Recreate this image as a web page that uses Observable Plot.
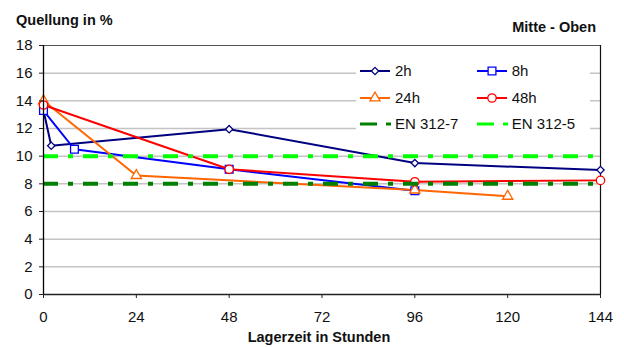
<!DOCTYPE html>
<html>
<head>
<meta charset="utf-8">
<script src="https://cdn.jsdelivr.net/npm/d3@7"></script>
<script src="https://cdn.jsdelivr.net/npm/@observablehq/plot@0.6"></script>
<style>
  html, body { margin: 0; padding: 0; background: #fff; }
  #wrap { position: relative; width: 624px; height: 347px; font-family: "Liberation Sans", Arial, sans-serif; color: #111; overflow: hidden; }
  .t { position: absolute; font-weight: bold; font-size: 14.5px; white-space: nowrap; }
  #legend { position: absolute; left: 356px; top: 58px; width: 234px; height: 78px; background: #fff; }
  .lg { position: absolute; font-size: 15px; white-space: nowrap; line-height: 1; }
</style>
</head>
<body>
<div id="wrap">
  <div id="chart"></div>
  <div class="t" style="left:16px; top:12px;">Quellung in %</div>
  <div class="t" style="right:28px; top:19px;">Mitte - Oben</div>
  <div class="t" style="left:243px; top:329px; width:152px; text-align:center;">Lagerzeit in Stunden</div>
  <div id="legend"></div>
</div>
<script>
// ---- data ----
const seriesNames = ["2h", "8h", "24h", "48h"];
const seriesColors = ["#000080", "#0000ff", "#ff6600", "#ff0000"];
const seriesSymbols = ["diamond2", "square", "triangle", "circle"];

const h2Hours = [0, 2, 48, 96, 144];
const h2Values = [13.3, 10.75, 11.95, 9.5, 9.0];
const h8Hours = [0, 8, 48, 96];
const h8Values = [13.3, 10.5, 9.05, 7.5];
const h24Hours = [0, 24, 96, 120];
const h24Values = [14.0, 8.6, 7.55, 7.1];
const h48Hours = [0, 48, 96, 144];
const h48Values = [13.7, 9.05, 8.15, 8.25];

const limitNames = ["EN 312-7", "EN 312-5"];
const limitValues = [8, 10];
const limitColors = ["#008000", "#00ff00"];

const xTicks = [0, 24, 48, 72, 96, 120, 144];
const yTicks = [0, 2, 4, 6, 8, 10, 12, 14, 16, 18];

// marker radius per series (style, not data)
const markerR = {"2h": 3.3, "8h": 4.4, "24h": 3.8, "48h": 4.2};

// ---- build table ----
const allHours = [h2Hours, h8Hours, h24Hours, h48Hours];
const allValues = [h2Values, h8Values, h24Values, h48Values];
const rows = [];
seriesNames.forEach((s, i) => {
  allHours[i].forEach((h, j) => rows.push({series: s, hour: h, value: allValues[i][j]}));
});
const limits = limitNames.map((n, i) => ({name: n, value: limitValues[i], color: limitColors[i]}));

const dotMarks = seriesNames.map(s =>
  Plot.dot(rows.filter(d => d.series === s), {x: "hour", y: "value", stroke: "series", symbol: "series", fill: "#fff", r: markerR[s], strokeWidth: 1.3})
);

const chart = Plot.plot({
  width: 624,
  height: 347,
  marginLeft: 43,
  marginRight: 24,
  marginTop: 45,
  marginBottom: 53,
  style: {fontFamily: "'Liberation Sans', Arial, sans-serif", fontSize: "15px", color: "#111", background: "#fff"},
  x: {domain: [0, 144], ticks: xTicks, label: null},
  y: {domain: [0, 18], ticks: yTicks, label: null},
  color: {domain: seriesNames, range: seriesColors},
  symbol: {domain: seriesNames, range: seriesSymbols},
  marks: [
    Plot.gridY(yTicks.filter(d => d > 0 && d < 18), {stroke: "#c4c4c4", strokeOpacity: 1, strokeWidth: 1.5}),
    Plot.ruleY([18], {stroke: "#555", strokeWidth: 1}),
    Plot.ruleX([144], {stroke: "#111", strokeWidth: 1.2}),
    Plot.line(rows, {x: "hour", y: "value", z: "series", stroke: "series", strokeWidth: 2}),
    ...dotMarks,
    Plot.ruleY(limits, {y: "value", stroke: "color", strokeWidth: 4, strokeDasharray: "15,10,5,10"}),
    Plot.ruleX([0], {stroke: "#000", strokeWidth: 1.3}),
    Plot.ruleY([0], {stroke: "#222", strokeWidth: 1.3}),
    Plot.axisY({ticks: yTicks, tickSize: 4, tickPadding: 7, tickFormat: d => d, stroke: "#222"}),
    Plot.axisX({ticks: xTicks, tickSize: 4, tickPadding: 13, tickFormat: d => d, stroke: "#222"})
  ]
});
document.getElementById("chart").appendChild(chart);

// ---- legend (HTML + small svg swatches) ----
const legend = d3.select("#legend");
const items = seriesNames.map((n, i) => ({name: n, color: seriesColors[i], symbol: seriesSymbols[i], limit: false}))
  .concat(limitNames.map((n, i) => ({name: n, color: limitColors[i], limit: true})));
const symMap = {diamond2: d3.symbolDiamond2, square: d3.symbolSquare, triangle: d3.symbolTriangle, circle: d3.symbolCircle};
items.forEach((it, k) => {
  const col = k % 2, row = Math.floor(k / 2);
  const left = col === 0 ? 4 : 120.7;
  const cy = [13, 39.5, 66][row];
  const svg = legend.append("svg")
    .attr("width", 32).attr("height", 14)
    .style("position", "absolute").style("left", left + "px").style("top", (cy - 7) + "px");
  if (it.limit) {
    svg.append("line").attr("x1", 0).attr("x2", 31).attr("y1", 7).attr("y2", 7)
      .attr("stroke", it.color).attr("stroke-width", 3).attr("stroke-dasharray", "17,9,5,20");
  } else {
    const rr = markerR[it.name];
    svg.append("line").attr("x1", 0).attr("x2", 30).attr("y1", 7).attr("y2", 7)
      .attr("stroke", it.color).attr("stroke-width", 2);
    svg.append("path").attr("transform", "translate(15,7)")
      .attr("d", d3.symbol(symMap[it.symbol], Math.PI * rr * rr)())
      .attr("fill", "#fff").attr("stroke", it.color).attr("stroke-width", 1.3);
  }
  legend.append("div").attr("class", "lg")
    .style("left", (left + 35) + "px").style("top", (cy - 8) + "px")
    .text(it.name);
});
</script>
</body>
</html>
